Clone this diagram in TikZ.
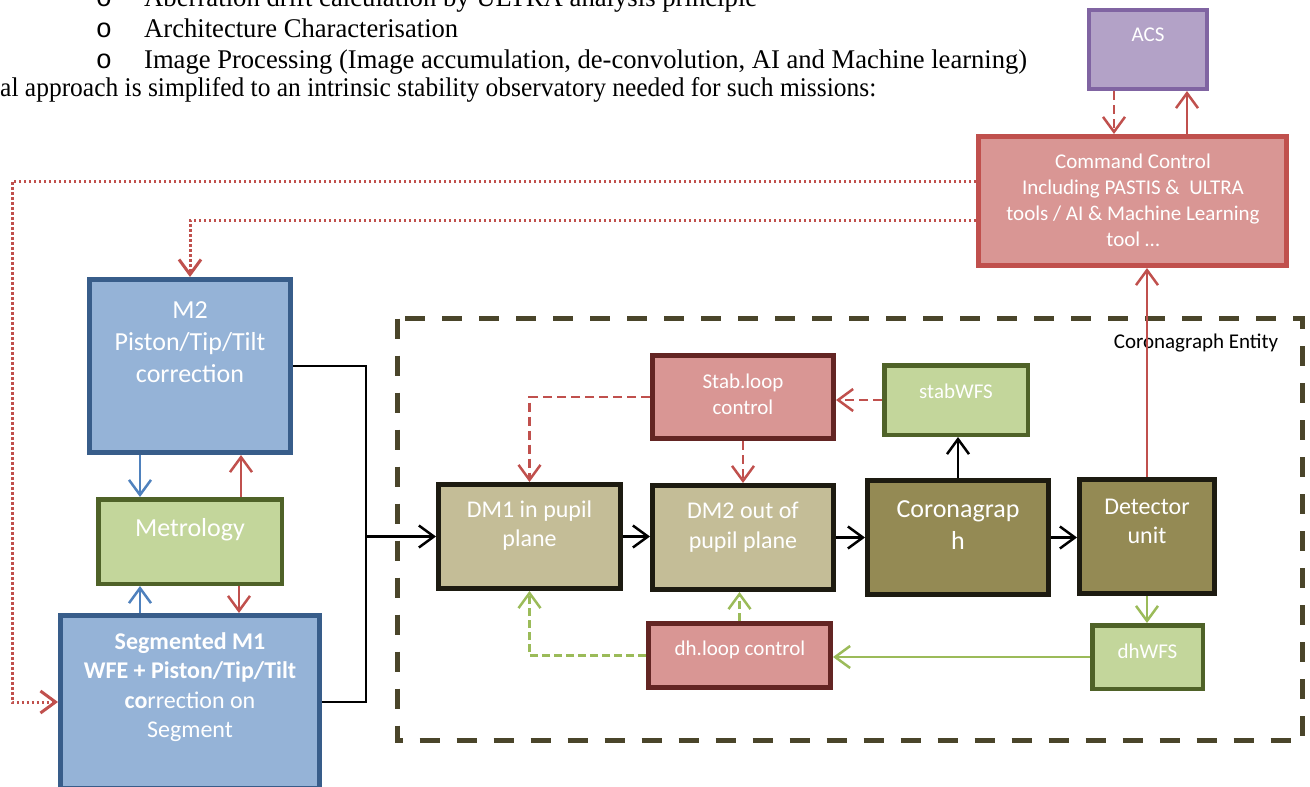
\documentclass[tikz,border=0pt]{standalone}
\usepackage{fontspec}
\usepackage{graphicx}
\setmainfont{Carlito}
\newfontfamily\tnr{Liberation Serif}
\newfontfamily\cnr{Liberation Mono}
\usetikzlibrary{arrows.meta}
\definecolor{acsF}{HTML}{B3A2C7}
\definecolor{acsD}{HTML}{8064A2}
\definecolor{redF}{HTML}{D99694}
\definecolor{redD}{HTML}{C0504D}
\definecolor{darkred}{HTML}{632523}
\definecolor{bluF}{HTML}{95B3D7}
\definecolor{bluD}{HTML}{385D8A}
\definecolor{bluA}{HTML}{4F81BD}
\definecolor{grnF}{HTML}{C3D69B}
\definecolor{grnD}{HTML}{4F6228}
\definecolor{grnA}{HTML}{9BBB59}
\definecolor{tanF}{HTML}{C4BD97}
\definecolor{oliF}{HTML}{948A54}
\definecolor{blk}{HTML}{1D1B11}
\definecolor{entD}{HTML}{4A452A}
\begin{document}
\begin{tikzpicture}[x=1pt,y=-1pt,
  bx/.style={draw, line width=5pt, inner sep=0pt},
  tw/.style={text=white, align=center, inner sep=0pt},
  fa/.style={font=\fontsize{21}{26}\selectfont},
  fb/.style={font=\fontsize{24}{29.5}\selectfont},
  fc/.style={font=\fontsize{26}{32}\selectfont},
  tt/.style={inner sep=0pt, font=\tnr\fontsize{27}{30}\selectfont},
  arr/.style={-{Straight Barb[length=15pt,width=22pt]}, line width=2.5pt},
  dsh/.style={dash pattern=on 9pt off 5pt},
  dot/.style={line width=3pt, dash pattern=on 2.5pt off 2.5pt}
]
\useasboundingbox (0,0) rectangle (1310,787);
\clip (0,0) rectangle (1310,787);

% top text
\node[tt, anchor=base] (b1) at (104,6.5) {\cnr o};
\node[tt, anchor=base west] (t1) at (144,6.5) {\resizebox{613pt}{\height}{Aberration drift calculation by ULTRA analysis principle}};
\node[tt, anchor=base] (b2) at (104,37.5) {\cnr o};
\node[tt, anchor=base west] (t2) at (144,37.5) {\resizebox{314pt}{\height}{Architecture Characterisation}};
\node[tt, anchor=base] (b3) at (104,68) {\cnr o};
\node[tt, anchor=base west] (t3) at (144,68) {\resizebox{883pt}{\height}{Image Processing (Image accumulation, de-convolution, AI and Machine learning)}};
\node[tt, anchor=base west] (t4) at (0,96) {\resizebox{876pt}{\height}{al approach is simplifed to an intrinsic stability observatory needed for such missions:}};

% coronagraph entity
\draw[entD, line width=5pt, dash pattern=on 20pt off 17pt] (397.5,318.5) rectangle (1302.5,740.5);
\node[fa, inner sep=0pt] (entl) at (1196,343) {Coronagraph Entity};

% boxes
\node[bx, line width=4pt, draw=acsD, fill=acsF, minimum width=118pt, minimum height=79pt] (acs) at (1148,49.5) {};
\node[tw, fa] (acst) at (1148,35) {ACS};
\node[bx, draw=redD, fill=redF, minimum width=308pt, minimum height=129pt] (cc) at (1132.5,201) {};
\node[tw, fa] (cct) at (1133,200.5) {Command Control\\Including PASTIS \&\ \ ULTRA\\tools / AI \& Machine Learning\\tool …};
\node[bx, draw=bluD, fill=bluF, minimum width=201pt, minimum height=173pt] (m2) at (190,366) {};
\node[tw, fc] (m2t) at (190,342) {M2\\Piston/Tip/Tilt\\correction};
\node[bx, line width=4.5pt, draw=grnD, fill=grnF, minimum width=183.5pt, minimum height=84.5pt] (met) at (190,541.5) {};
\node[tw, fc] (mett) at (190,530) {Metrology};
\node[bx, draw=bluD, fill=bluF, minimum width=259pt, minimum height=173pt] (m1) at (190,702) {};
\node[tw, fb] (m1t) at (190,687) {\textbf{Segmented M1}\\\textbf{WFE + Piston/Tip/Tilt}\\\textbf{co}rrection on\\Segment};
\node[bx, draw=darkred, fill=redF, minimum width=181pt, minimum height=83pt] (stab) at (743,397) {};
\node[tw, fa] (stabt) at (743,394.5) {Stab.loop\\control};
\node[bx, line width=4.5pt, draw=grnD, fill=grnF, minimum width=143.5pt, minimum height=69.5pt] (swfs) at (956,400) {};
\node[tw, fa] (swfst) at (956,391) {stabWFS};
\node[bx, draw=blk, fill=tanF, minimum width=182pt, minimum height=104pt] (dm1) at (529.5,536.5) {};
\node[tw, fb] (dm1t) at (529.5,525.5) {DM1 in pupil\\plane};
\node[bx, draw=blk, fill=tanF, minimum width=181pt, minimum height=104pt] (dm2) at (743,537.5) {};
\node[tw, fb] (dm2t) at (743,527) {DM2 out of\\pupil plane};
\node[bx, draw=blk, fill=oliF, minimum width=181pt, minimum height=114pt] (cor) at (958,537.5) {};
\node[tw, fc] (cort) at (958,525) {Coronagrap\\h};
\node[bx, draw=blk, fill=oliF, minimum width=135pt, minimum height=114pt] (det) at (1147,536.5) {};
\node[tw, fb] (dett) at (1147,521.5) {Detector\\unit};
\node[bx, draw=darkred, fill=redF, minimum width=182pt, minimum height=64pt] (dh) at (739.5,655.5) {};
\node[tw, fa] (dht) at (740,650) {dh.loop control};
\node[bx, line width=4.5pt, draw=grnD, fill=grnF, minimum width=110.5pt, minimum height=63.5pt] (dwfs) at (1147.5,657) {};
\node[tw, fa] (dwfst) at (1147.5,651) {dhWFS};

% connectors
\coordinate (lft) at (12,0);
\coordinate (jn) at (366,536.5);
\draw[arr, redD, dsh] ([xshift=-34pt]acs.south) -- ([xshift=-18.5pt]cc.north);
\draw[arr, redD] ([xshift=54.5pt]cc.north) -- ([xshift=39pt]acs.south);
\draw[arr, redD, dot] ([yshift=20pt]cc.west) -| (lft |- m1.west) -- (m1.west);
\draw[arr, redD, dot] ([yshift=-19pt]cc.west) -| (m2.north);
\draw[arr, bluA] ([xshift=-50pt]m2.south) -- ([xshift=-50pt]met.north);
\draw[arr, redD] ([xshift=51pt]met.north) -- ([xshift=51pt]m2.south);
\draw[arr, bluA] ([xshift=-50pt]m1.north) -- ([xshift=-50pt]met.south);
\draw[arr, redD] ([xshift=49pt]met.south) -- ([xshift=49pt]m1.north);
\draw[line width=2.5pt, black] (m2.east) -| (jn);
\draw[line width=2.5pt, black] (m1.east) -| (jn);
\draw[arr, black] (jn) -- (dm1.west);
\draw[arr, black] (dm1.east) -- (dm2.west |- dm1.east);
\draw[arr, black] (dm2.east) -- (cor.west);
\draw[arr, black] (cor.east) -- (det.west |- cor.east);
\draw[arr, black] (cor.north) -- (swfs.south -| cor.north);
\draw[arr, redD, dsh] (swfs.west) -- (stab.east |- swfs.west);
\draw[arr, redD, dsh] (stab.west) -| (dm1.north);
\draw[arr, redD, dsh] (stab.south) -- (dm2.north);
\draw[arr, redD] (det.north) -- (cc.south -| det.north);
\draw[arr, grnA] (det.south) -- (dwfs.north -| det.south);
\draw[arr, grnA] (dwfs.west) -- (dh.east |- dwfs.west);
\draw[arr, grnA, dash pattern=on 8pt off 4pt] (dh.west) -| (dm1.south);
\draw[arr, grnA, dash pattern=on 8pt off 4pt] (dh.north) -- (dm2.south -| dh.north);
\end{tikzpicture}
\end{document}
